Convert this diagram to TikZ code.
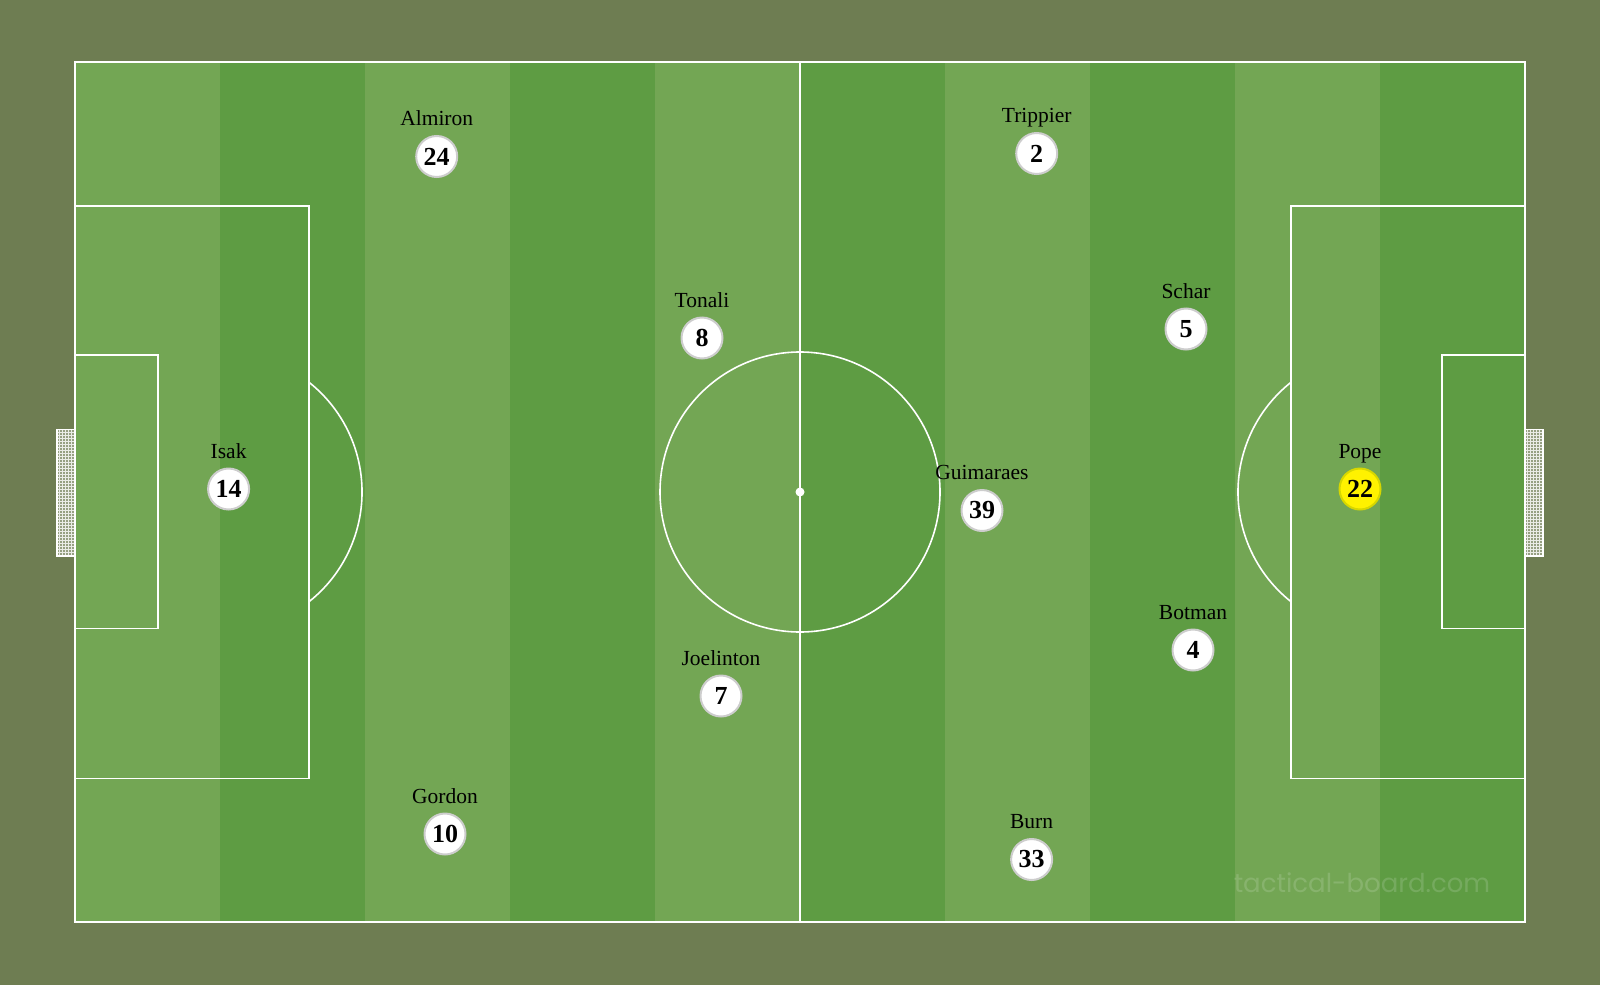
\documentclass[tikz,border=0pt]{standalone}
\usepackage{fontspec}
\setmainfont{Liberation Serif}
\newfontfamily\wmfont{Poppins}
\usetikzlibrary{calc}
\definecolor{bgc}{RGB}{110,125,82}
\definecolor{lightg}{RGB}{115,166,84}
\definecolor{darkg}{RGB}{94,156,67}
\definecolor{netc}{RGB}{150,160,130}
\definecolor{ringc}{RGB}{205,205,205}
\definecolor{popering}{RGB}{215,215,0}
\tikzset{
  pline/.style={draw=white, line width=1.6pt},
  player/.style={circle, fill=white, draw=ringc, line width=2pt, minimum size=41pt, inner sep=0pt, font=\fontsize{26}{28}\selectfont\bfseries},
  keeper/.style={player, fill=yellow, draw=popering},
  pname/.style={anchor=base, inner sep=0pt, font=\fontsize{21.5}{24}\selectfont},
}
\begin{document}
\begin{tikzpicture}[x=1pt,y=-1pt]
\useasboundingbox (0,0) rectangle (1600,985);
\fill[bgc] (0,0) rectangle (1600,985);
% stripes
\foreach \i in {0,...,9}{
  \pgfmathsetmacro{\xa}{75+145*\i}
  \pgfmathsetmacro{\xb}{75+145*(\i+1)}
  \ifodd\i
    \fill[darkg] (\xa,62) rectangle (\xb,922);
  \else
    \fill[lightg] (\xa,62) rectangle (\xb,922);
  \fi
}
% goals
\fill[netc] (57,429.5) rectangle (75,556);
\foreach \y in {432,435,...,554} \draw[white!80!netc, line width=0.5pt] (57,\y) -- (75,\y);
\foreach \x in {59,62,...,74} \draw[white!80!netc, line width=0.5pt] (\x,429.5) -- (\x,556);
\draw[white, line width=1.5pt] (75,429.5) -- (57,429.5) -- (57,556) -- (75,556);
\fill[netc] (1525,429.5) rectangle (1543,556);
\foreach \y in {432,435,...,554} \draw[white!80!netc, line width=0.5pt] (1525,\y) -- (1543,\y);
\foreach \x in {1527,1530,...,1542} \draw[white!80!netc, line width=0.5pt] (\x,429.5) -- (\x,556);
\draw[white, line width=1.5pt] (1525,429.5) -- (1543,429.5) -- (1543,556) -- (1525,556);
% pitch lines
\draw[pline, line width=2pt] (75,62) rectangle (1525,922);
\draw[pline] (800,62) -- (800,922);
\draw[pline] (800,492) circle (140);
\fill[white] (800,492) circle (4.5);
\draw[pline] (75,206) rectangle (309,778.5);
\draw[pline] (75,355) rectangle (158,628.5);
\draw[pline] (309,601.7) arc (51.6:-51.6:140);
\draw[pline] (1291,206) rectangle (1525,778.5);
\draw[pline] (1442,355) rectangle (1525,628.5);
\draw[pline] (1291,601.7) arc (128.4:231.6:140);
% watermark
\node[font=\wmfont\fontsize{26}{30}\selectfont, text=white, opacity=0.15, inner sep=0pt] (wm) at (1362,883) {tactical-board.com};
% players
\node[player] (p24) at (436.7,156.5) {24};
\node[pname] (n24) at (436.7,125.5) {Almiron};
\node[player] (p2) at (1036.7,153.5) {2};
\node[pname] (n2) at (1036.7,122.5) {Trippier};
\node[player] (p8) at (702,338) {8};
\node[pname] (n8) at (702,307) {Tonali};
\node[player] (p5) at (1186,329) {5};
\node[pname] (n5) at (1186,298) {Schar};
\node[player] (p14) at (228.6,489) {14};
\node[pname] (n14) at (228.6,458) {Isak};
\node[keeper] (p22) at (1360,489) {22};
\node[pname] (n22) at (1360,458) {Pope};
\node[player] (p39) at (982,510.5) {39};
\node[pname] (n39) at (982,479.5) {Guimaraes};
\node[player] (p4) at (1193,650) {4};
\node[pname] (n4) at (1193,619) {Botman};
\node[player] (p7) at (721,696) {7};
\node[pname] (n7) at (721,665) {Joelinton};
\node[player] (p10) at (445,834) {10};
\node[pname] (n10) at (445,803) {Gordon};
\node[player] (p33) at (1031.6,859.5) {33};
\node[pname] (n33) at (1031.6,828.5) {Burn};
\end{tikzpicture}
\end{document}
